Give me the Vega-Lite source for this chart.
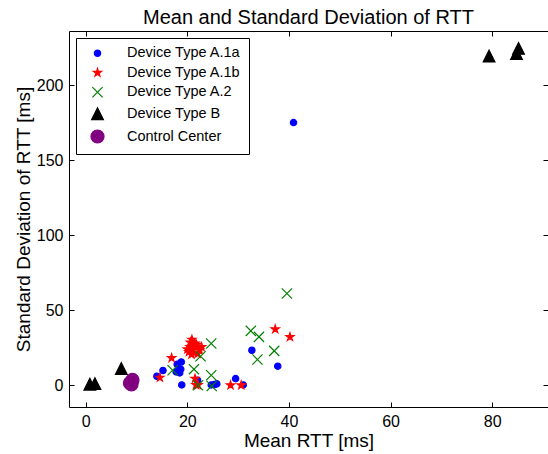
{
  "$schema": "https://vega.github.io/schema/vega-lite/v6.json",
  "width": 479,
  "height": 376,
  "autosize": {"type": "none"},
  "padding": {"left": 69, "top": 31, "right": 0, "bottom": 47},
  "background": "white",
  "config": {
    "font": "Liberation Sans",
    "view": {"stroke": "black", "strokeWidth": 1},
    "axis": {"grid": false, "domainColor": "black", "tickColor": "black", "labelColor": "black", "titleColor": "black", "labelFont": "Liberation Sans", "titleFont": "Liberation Sans", "labelFontSize": 16, "titleFontSize": 19, "titleFontWeight": "normal"},
    "legend": {"orient": "top-left", "offset": 7, "padding": 8, "strokeColor": "black", "fillColor": "white", "labelFontSize": 14.5, "labelColor": "black", "labelFont": "Liberation Sans", "rowPadding": 4.5, "labelOffset": 22, "symbolOffset": 6, "symbolStrokeWidth": 1.2, "labelLimit": 300}
  },
  "title": {"text": "Mean and Standard Deviation of RTT", "fontSize": 20, "fontWeight": "normal", "font": "Liberation Sans", "color": "black", "offset": 3, "anchor": "middle"},
  "data": {"values": [
    {"x": 14.0, "y": 6, "g": "Device Type A.1a"},
    {"x": 15.2, "y": 9.8, "g": "Device Type A.1a"},
    {"x": 18.0, "y": 14, "g": "Device Type A.1a"},
    {"x": 18.8, "y": 15.5, "g": "Device Type A.1a"},
    {"x": 17.8, "y": 8.9, "g": "Device Type A.1a"},
    {"x": 18.7, "y": 10.7, "g": "Device Type A.1a"},
    {"x": 18.5, "y": 8.2, "g": "Device Type A.1a"},
    {"x": 18.9, "y": 0.2, "g": "Device Type A.1a"},
    {"x": 22.0, "y": 3.3, "g": "Device Type A.1a"},
    {"x": 24.7, "y": 0.2, "g": "Device Type A.1a"},
    {"x": 25.3, "y": 0.4, "g": "Device Type A.1a"},
    {"x": 25.8, "y": 0.9, "g": "Device Type A.1a"},
    {"x": 29.5, "y": 4.4, "g": "Device Type A.1a"},
    {"x": 31.0, "y": 0.2, "g": "Device Type A.1a"},
    {"x": 32.7, "y": 23.3, "g": "Device Type A.1a"},
    {"x": 37.8, "y": 12.7, "g": "Device Type A.1a"},
    {"x": 40.9, "y": 175, "g": "Device Type A.1a"},
    {"x": 14.6, "y": 5.1, "g": "Device Type A.1b"},
    {"x": 16.9, "y": 18.2, "g": "Device Type A.1b"},
    {"x": 20.9, "y": 30.4, "g": "Device Type A.1b"},
    {"x": 20.5, "y": 25.6, "g": "Device Type A.1b"},
    {"x": 21.8, "y": 25.1, "g": "Device Type A.1b"},
    {"x": 21.3, "y": 21.6, "g": "Device Type A.1b"},
    {"x": 20.3, "y": 22.2, "g": "Device Type A.1b"},
    {"x": 22.4, "y": 23.3, "g": "Device Type A.1b"},
    {"x": 21.5, "y": 27.8, "g": "Device Type A.1b"},
    {"x": 20.0, "y": 24.0, "g": "Device Type A.1b"},
    {"x": 21.0, "y": 23.5, "g": "Device Type A.1b"},
    {"x": 22.0, "y": 21.0, "g": "Device Type A.1b"},
    {"x": 20.8, "y": 20.5, "g": "Device Type A.1b"},
    {"x": 21.8, "y": 27.0, "g": "Device Type A.1b"},
    {"x": 22.8, "y": 25.5, "g": "Device Type A.1b"},
    {"x": 20.6, "y": 28.5, "g": "Device Type A.1b"},
    {"x": 21.5, "y": 4.4, "g": "Device Type A.1b"},
    {"x": 21.7, "y": 0.2, "g": "Device Type A.1b"},
    {"x": 22.1, "y": 0.2, "g": "Device Type A.1b"},
    {"x": 28.5, "y": 0, "g": "Device Type A.1b"},
    {"x": 30.6, "y": 0, "g": "Device Type A.1b"},
    {"x": 37.3, "y": 37.3, "g": "Device Type A.1b"},
    {"x": 40.2, "y": 32.2, "g": "Device Type A.1b"},
    {"x": 17.1, "y": 10, "g": "Device Type A.2"},
    {"x": 21.3, "y": 10.7, "g": "Device Type A.2"},
    {"x": 22.6, "y": 19.3, "g": "Device Type A.2"},
    {"x": 24.7, "y": 27.8, "g": "Device Type A.2"},
    {"x": 24.7, "y": 6.7, "g": "Device Type A.2"},
    {"x": 22.1, "y": 0, "g": "Device Type A.2"},
    {"x": 24.8, "y": -0.5, "g": "Device Type A.2"},
    {"x": 32.5, "y": 36.2, "g": "Device Type A.2"},
    {"x": 34.1, "y": 32.2, "g": "Device Type A.2"},
    {"x": 33.8, "y": 17.1, "g": "Device Type A.2"},
    {"x": 37.1, "y": 22.9, "g": "Device Type A.2"},
    {"x": 39.6, "y": 61.1, "g": "Device Type A.2"},
    {"x": 0.8, "y": 0.7, "g": "Device Type B"},
    {"x": 1.8, "y": 1.1, "g": "Device Type B"},
    {"x": 7.0, "y": 11.1, "g": "Device Type B"},
    {"x": 79.4, "y": 219.3, "g": "Device Type B"},
    {"x": 84.8, "y": 221, "g": "Device Type B"},
    {"x": 85.2, "y": 224.4, "g": "Device Type B"},
    {"x": 8.7, "y": 1.5, "g": "Control Center"},
    {"x": 9.2, "y": 3.5, "g": "Control Center"},
    {"x": 9.0, "y": 0.5, "g": "Control Center"}
  ]},
  "layer": [
    {
      "mark": {"type": "point", "filled": true, "strokeWidth": 1.2, "opacity": 1},
      "encoding": {
        "x": {"field": "x", "type": "quantitative", "scale": {"domain": [-3.3, 91], "nice": false, "zero": false}, "axis": {"orient": "bottom", "title": "Mean RTT [ms]", "values": [0, 20, 40, 60, 80], "tickSize": -5, "labelPadding": 11, "titlePadding": 2, "domain": false}},
        "y": {"field": "y", "type": "quantitative", "scale": {"domain": [-14.5, 236], "nice": false, "zero": false}, "axis": {"orient": "left", "title": "Standard Deviation of RTT [ms]", "values": [0, 50, 100, 150, 200], "tickSize": -5, "labelPadding": 11, "titlePadding": 3, "domain": false}},
        "shape": {"field": "g", "type": "nominal", "scale": {"domain": ["Device Type A.1a", "Device Type A.1b", "Device Type A.2", "Device Type B", "Control Center"], "range": ["circle", "M0,-1L0.2245,-0.309L0.951,-0.309L0.3633,0.118L0.588,0.809L0,0.382L-0.588,0.809L-0.3633,0.118L-0.951,-0.309L-0.2245,-0.309Z", "M-1,-1L1,1M-1,1L1,-1", "M0,-1L1,1L-1,1Z", "circle"]}, "legend": {"title": null}},
        "fill": {"field": "g", "type": "nominal", "scale": {"domain": ["Device Type A.1a", "Device Type A.1b", "Device Type A.2", "Device Type B", "Control Center"], "range": ["#0000ff", "#ff0000", "#008000", "#000000", "#800080"]}, "legend": {"title": null}},
        "stroke": {"field": "g", "type": "nominal", "scale": {"domain": ["Device Type A.1a", "Device Type A.1b", "Device Type A.2", "Device Type B", "Control Center"], "range": ["#0000ff", "#ff0000", "#008000", "#000000", "#800080"]}, "legend": {"title": null}},
        "size": {"field": "g", "type": "nominal", "scale": {"domain": ["Device Type A.1a", "Device Type A.1b", "Device Type A.2", "Device Type B", "Control Center"], "range": [40, 170, 130, 140, 200]}, "legend": {"title": null}}
      }
    },
    {
      "mark": {"type": "point", "opacity": 0},
      "encoding": {
        "x": {"field": "x", "type": "quantitative", "axis": {"orient": "top", "values": [0, 20, 40, 60, 80], "labels": false, "title": null, "tickSize": -5, "domain": false}},
        "y": {"field": "y", "type": "quantitative", "axis": {"orient": "right", "values": [0, 50, 100, 150, 200], "labels": false, "title": null, "tickSize": -5, "domain": false}}
      }
    }
  ],
  "resolve": {"axis": {"x": "independent", "y": "independent"}}
}
